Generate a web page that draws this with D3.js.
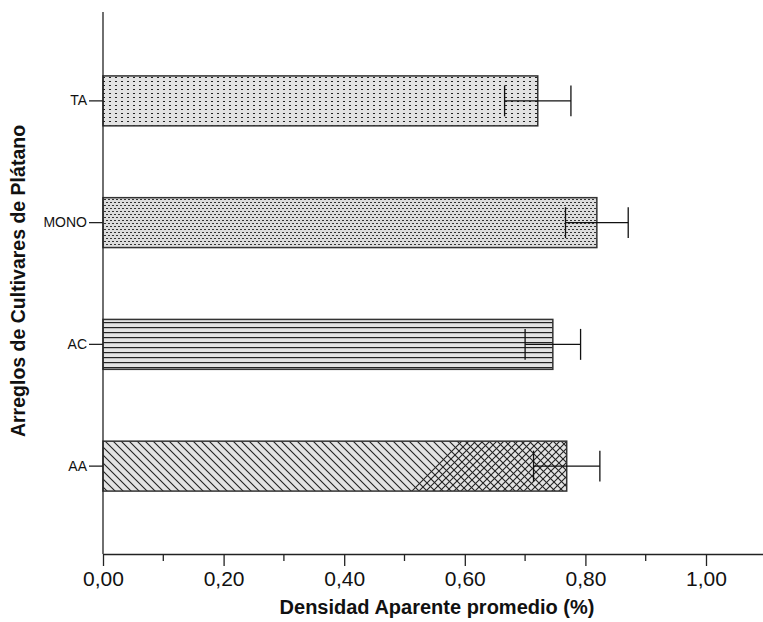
<!DOCTYPE html>
<html>
<head>
<meta charset="utf-8">
<script src="https://cdn.jsdelivr.net/npm/d3@7"></script>
<style>
  body { margin: 0; background: #fff; }
  svg { display: block; font-family: "Liberation Sans", Arial, sans-serif; }
</style>
</head>
<body>
<div id="chart"></div>
<script>
// data
const categories = ["TA", "MONO", "AC", "AA"];
const means = [0.721, 0.819, 0.746, 0.769];
const errors = [0.055, 0.052, 0.046, 0.055];
const patterns = ["dots", "dense", "hlines", "diag"];
const xTicks = [0, 0.2, 0.4, 0.6, 0.8, 1.0];
const xMinorTicks = [0.1, 0.3, 0.5, 0.7, 0.9];

const W = 763, H = 622;
const x0 = 103, xEnd = 763, axisY = 554, topY = 12;

const svg = d3.select("#chart").append("svg")
    .attr("width", W).attr("height", H);

const x = d3.scaleLinear()
    .domain([0, (xEnd - x0) / 603])
    .range([x0, xEnd]);

const y = d3.scaleBand()
    .domain(categories)
    .range([40, 527])
    .paddingInner(0.59)
    .paddingOuter(0.295);

// fill patterns
const defs = svg.append("defs");
const bg = "#e3e3e3", ink = "#222";

let p = defs.append("pattern").attr("id", "dots")
    .attr("patternUnits", "userSpaceOnUse").attr("width", 6).attr("height", 4);
p.append("rect").attr("width", 6).attr("height", 4).attr("fill", bg);
p.append("rect").attr("x", 1).attr("y", 1).attr("width", 2).attr("height", 1).attr("fill", ink);

p = defs.append("pattern").attr("id", "dense")
    .attr("patternUnits", "userSpaceOnUse").attr("width", 4).attr("height", 6);
p.append("rect").attr("width", 4).attr("height", 6).attr("fill", "#dcdcdc");
p.append("rect").attr("x", 0).attr("y", 1).attr("width", 2).attr("height", 1).attr("fill", "#333");
p.append("rect").attr("x", 2).attr("y", 4).attr("width", 2).attr("height", 1).attr("fill", "#333");

p = defs.append("pattern").attr("id", "hlines")
    .attr("patternUnits", "userSpaceOnUse").attr("width", 10).attr("height", 5);
p.append("rect").attr("width", 10).attr("height", 5).attr("fill", bg);
p.append("rect").attr("y", 2).attr("width", 10).attr("height", 1.2).attr("fill", ink);

p = defs.append("pattern").attr("id", "diag")
    .attr("patternUnits", "userSpaceOnUse").attr("width", 8).attr("height", 8);
p.append("rect").attr("width", 8).attr("height", 8).attr("fill", bg);
p.append("path").attr("d", "M-2,-2L10,10M-2,6L2,10M6,-2L10,2")
    .attr("stroke", ink).attr("stroke-width", 1.1);

p = defs.append("pattern").attr("id", "cross")
    .attr("patternUnits", "userSpaceOnUse").attr("width", 7).attr("height", 7);
p.append("path").attr("d", "M-2,9L9,-2M-2,2L2,-2M5,9L9,5")
    .attr("stroke", ink).attr("stroke-width", 1.1);

// bars
const bars = svg.append("g");
categories.forEach((c, i) => {
  bars.append("rect")
      .attr("x", x(0))
      .attr("y", y(c))
      .attr("width", x(means[i]) - x(0))
      .attr("height", y.bandwidth())
      .attr("fill", `url(#${patterns[i]})`);
});

// AA bar: cross-hatched right part
const aaY = y("AA"), aaH = y.bandwidth();
bars.append("path")
    .attr("d", `M${x(0.587)},${aaY}L${x(means[3])},${aaY}L${x(means[3])},${aaY + aaH}L${x(0.51)},${aaY + aaH}Z`)
    .attr("fill", "url(#cross)");

categories.forEach((c, i) => {
  bars.append("rect")
      .attr("x", x(0))
      .attr("y", y(c))
      .attr("width", x(means[i]) - x(0))
      .attr("height", y.bandwidth())
      .attr("fill", "none")
      .attr("stroke", "#333")
      .attr("stroke-width", 1.5);
});

// error bars
const eb = svg.append("g").attr("stroke", "#111").attr("stroke-width", 1.3);
categories.forEach((c, i) => {
  const cy = y(c) + y.bandwidth() / 2;
  const capH = y.bandwidth() * 0.31;
  eb.append("line")
      .attr("x1", x(means[i] - errors[i])).attr("x2", x(means[i] + errors[i]))
      .attr("y1", cy).attr("y2", cy);
  [means[i] - errors[i], means[i] + errors[i]].forEach(v => {
    eb.append("line")
        .attr("x1", x(v)).attr("x2", x(v))
        .attr("y1", cy - capH).attr("y2", cy + capH);
  });
});

// x axis
const xAxis = svg.append("g").attr("transform", `translate(0,${axisY})`);
xAxis.call(d3.axisBottom(x).tickValues(xTicks).tickSize(12).tickSizeOuter(0)
    .tickFormat(d => d3.format(".2f")(d).replace(".", ",")));
xAxis.select(".domain").attr("stroke", "#222").attr("stroke-width", 1.3);
xAxis.selectAll(".tick line").attr("stroke", "#222").attr("stroke-width", 1.3);
xAxis.selectAll("text").attr("font-size", 21).attr("fill", "#111").attr("dy", "0.71em").attr("y", 17);
xAxis.selectAll(".minor").data(xMinorTicks).join("line")
    .attr("x1", d => x(d)).attr("x2", d => x(d))
    .attr("y1", 0).attr("y2", 7)
    .attr("stroke", "#222").attr("stroke-width", 1.3);

// y axis
const yAxis = svg.append("g").attr("transform", `translate(${x0},0)`);
yAxis.call(d3.axisLeft(y).tickSize(14).tickPadding(2).tickSizeOuter(0));
yAxis.select(".domain").remove();
yAxis.append("line").attr("x1", 0).attr("x2", 0).attr("y1", topY).attr("y2", axisY)
    .attr("stroke", "#222").attr("stroke-width", 1.3);
yAxis.selectAll(".tick line").attr("stroke", "#222").attr("stroke-width", 1.3);
yAxis.selectAll("text").attr("font-size", 14).attr("fill", "#111");

// titles
svg.append("text")
    .attr("x", 437).attr("y", 614)
    .attr("text-anchor", "middle")
    .attr("font-size", 20).attr("font-weight", "bold").attr("fill", "#111")
    .text("Densidad Aparente promedio (%)");

svg.append("text")
    .attr("transform", "translate(25,281) rotate(-90)")
    .attr("text-anchor", "middle")
    .attr("font-size", 19.5).attr("font-weight", "bold").attr("fill", "#111")
    .text("Arreglos de Cultivares de Plátano");
</script>
</body>
</html>
